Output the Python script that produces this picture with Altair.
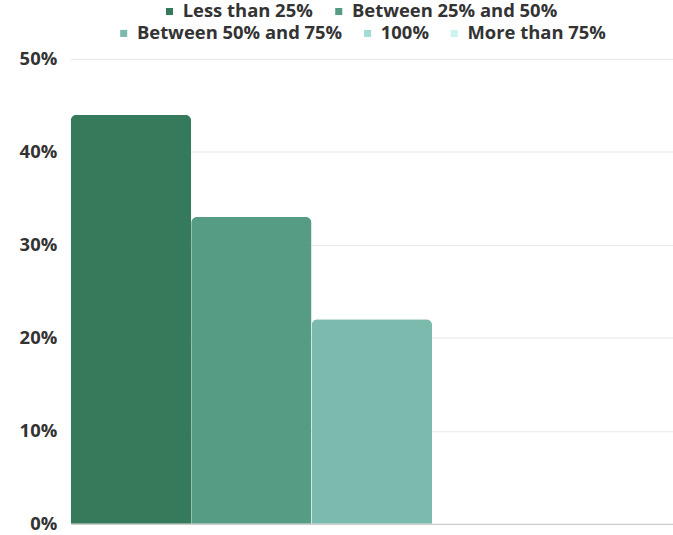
import altair as alt
import pandas as pd

# Survey answers and the share of respondents for each
answers = ["Less than 25%", "Between 25% and 50%", "Between 50% and 75%", "100%", "More than 75%"]
shares = [0.44, 0.33, 0.22, 0.0, 0.0]
palette = ["#357a5b", "#569b83", "#7cbaae", "#a3dbd4", "#cdf3f1"]
tick_values = [0, 0.1, 0.2, 0.3, 0.4, 0.5]

# Legend split into two centred rows
row_one = answers[:2]
row_two = answers[2:]

df = pd.DataFrame({"group": ["all"] * len(answers), "answer": answers, "share": shares})

FONT = "Open Sans"
TEXT = "#333333"
SIZE = 18.5


def bar_layer(subset, legend_x, legend_y):
    colors = [palette[answers.index(a)] for a in subset]
    return (
        alt.Chart()
        .mark_bar(cornerRadiusTopLeft=6, cornerRadiusTopRight=6)
        .encode(
            x=alt.X(
                "group:N",
                title=None,
                scale=alt.Scale(paddingInner=0, paddingOuter=0),
                axis=alt.Axis(labels=False, ticks=False, grid=False,
                              domainColor="#cccccc", domainWidth=1.2, title=None),
            ),
            xOffset=alt.XOffset(
                "answer:N",
                scale=alt.Scale(domain=answers, paddingInner=0, paddingOuter=0),
            ),
            y=alt.Y(
                "share:Q",
                title=None,
                scale=alt.Scale(domain=[0, 0.5], nice=False),
                axis=alt.Axis(
                    values=tick_values, format=".0%", domain=False, ticks=False,
                    labelFont=FONT, labelFontWeight="bold", labelFontSize=SIZE,
                    labelColor=TEXT, labelPadding=14, gridColor="#e6e6e6",
                ),
            ),
            color=alt.Color(
                "answer:N",
                scale=alt.Scale(domain=subset, range=colors),
                legend=alt.Legend(
                    title=None, orient="none", direction="horizontal",
                    legendX=legend_x, legendY=legend_y, padding=0,
                    symbolType="square", symbolSize=50, symbolStrokeWidth=0,
                    labelFont=FONT, labelFontWeight="bold", labelFontSize=SIZE,
                    labelColor=TEXT, labelOffset=4, columnPadding=16,
                    labelLimit=400,
                ),
            ),
        )
        .transform_filter(alt.FieldOneOfPredicate(field="answer", oneOf=subset))
    )


chart = (
    alt.layer(
        bar_layer(row_one, 90, -57),
        bar_layer(row_two, 44, -35),
        data=df,
    )
    .resolve_scale(color="independent")
    .resolve_legend(color="independent")
    .properties(
        width=605,
        height=467,
        autosize=alt.AutoSizeParams(type="none"),
        padding={"left": 71, "top": 58, "right": 0, "bottom": 10},
        background="white",
    )
    .configure_view(stroke=None)
)

chart.save("out.html", embed_options={"renderer": "svg", "actions": False})
